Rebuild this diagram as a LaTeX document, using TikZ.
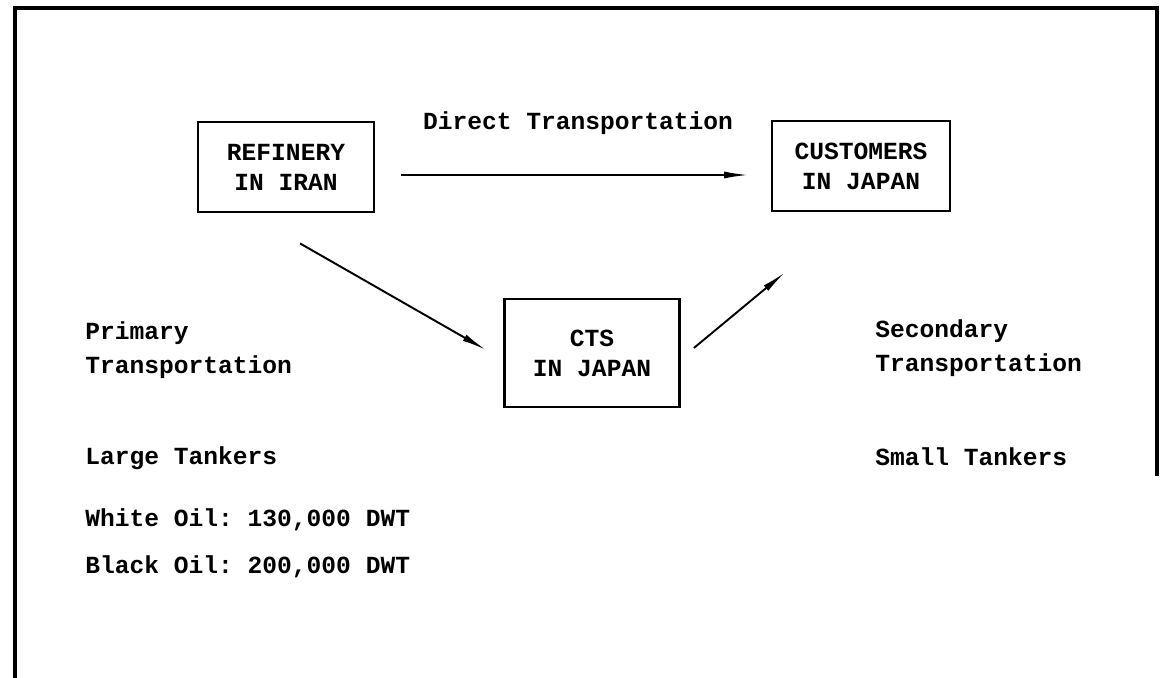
\documentclass[tikz,border=0pt]{standalone}
\usepackage{fontspec}
\setmonofont{Liberation Mono}
\usetikzlibrary{arrows.meta}
\newcommand{\twfont}{\ttfamily\bfseries\fontsize{14}{19}\selectfont}
\newcommand{\bxfont}{\ttfamily\bfseries\fontsize{14}{17}\selectfont}
\tikzset{
  box/.style={draw,line width=1.6pt,align=center,font=\bxfont,inner sep=0pt},
  lbl/.style={align=left,anchor=west,inner sep=0pt,font=\twfont},
  arr/.style={line width=1.1pt,-{Latex[length=14pt,width=4pt]}}
}
\begin{document}
\begin{tikzpicture}[x=0.02cm,y=-0.02cm]
\useasboundingbox (0,0) rectangle (1164,678);
% open frame
\draw[line width=2.4pt] (15,678) -- (15,8) -- (1157,8) -- (1157,476);

% the three boxes
\node[box,minimum width=3.52cm,minimum height=1.8cm] (ref) at (286,167) {REFINERY\\IN IRAN};
\node[box,minimum width=3.56cm,minimum height=1.8cm] (cus) at (861,166) {CUSTOMERS\\IN JAPAN};
\node[box,minimum width=3.5cm,minimum height=2.16cm] (cts) at (592,353) {CTS\\IN JAPAN};

% routes
\draw[arr] ([shift={(26,8)}]ref.east) -- ([shift={(-22,9)}]cus.west);
\draw[arr] ([shift={(14,30)}]ref.south) -- ([shift={(-17,-3)}]cts.west);
\draw[arr] ([shift={(13,-5)}]cts.east) -- ([shift={(-76,60)}]cus.south);

% texts
\node[font=\twfont,inner sep=0pt] (dir) at (578,123) {Direct Transportation};
\node[lbl] (pri) at (85,350) {Primary\\Transportation};
\node[lbl] (lrg) at (85,458) {Large Tankers};
\node[lbl] (wht) at (85,520) {White Oil: 130,000 DWT};
\node[lbl] (blk) at (85,567) {Black Oil: 200,000 DWT};
\node[lbl] (sec) at (875,348) {Secondary\\Transportation};
\node[lbl] (sml) at (875,457) {Small Tankers};
\end{tikzpicture}
\end{document}
